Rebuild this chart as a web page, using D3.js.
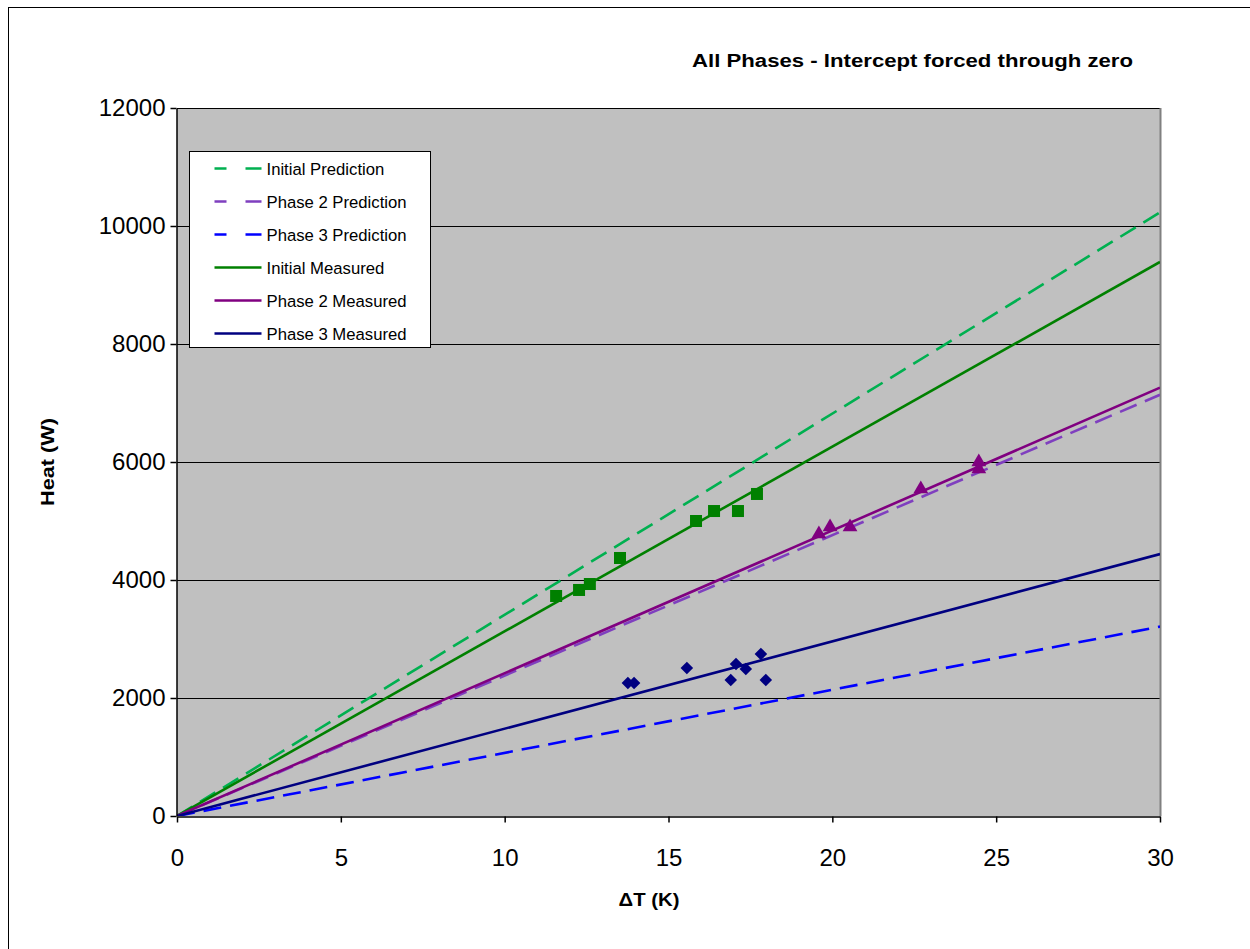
<!DOCTYPE html>
<html>
<head>
<meta charset="utf-8">
<script src="https://cdn.jsdelivr.net/npm/d3@7"></script>
<style>
  body { margin: 0; background: #fff; }
  text { font-family: "Liberation Sans", Arial, sans-serif; }
</style>
</head>
<body>
<div id="chart"></div>
<script>
// data
var xTicks = [0, 5, 10, 15, 20, 25, 30];
var yTicks = [0, 2000, 4000, 6000, 8000, 10000, 12000];

var initialX = [11.57, 12.27, 12.6, 13.52, 15.84, 16.39, 17.12, 17.7];
var initialY = [3729, 3831, 3932, 4373, 5000, 5169, 5169, 5458];

var phase2X = [19.59, 19.93, 20.54, 22.7, 24.47, 24.47];
var phase2Y = [4763, 4881, 4881, 5525, 5983, 5864];

var phase3X = [13.76, 13.95, 15.56, 16.9, 17.06, 17.36, 17.82, 17.97];
var phase3Y = [2254, 2254, 2508, 2305, 2576, 2491, 2746, 2305];

// fitted lines (slope in W/K, through zero)
var lineNames = ["Initial Prediction", "Phase 2 Prediction", "Phase 3 Prediction",
                 "Initial Measured", "Phase 2 Measured", "Phase 3 Measured"];
var lineSlopes = [341, 238, 107, 313, 242, 148];
var lineColors = ["#00B050", "#7F3FBF", "#0000FF", "#008000", "#800080", "#000080"];
var lineDashed = [true, true, true, false, false, false];

var svgWidth = 1250;
var svgHeight = 949;

var plot = { left: 177, top: 108, right: 1160, bottom: 816 };

var svg = d3.select("#chart").append("svg")
  .attr("width", svgWidth)
  .attr("height", svgHeight);

// outer frame
svg.append("rect")
  .attr("x", 8.5).attr("y", 7.5)
  .attr("width", 1260).attr("height", 960)
  .attr("fill", "#fff")
  .attr("stroke", "#000")
  .attr("stroke-width", 1);

var xScale = d3.scaleLinear().domain([0, 30]).range([plot.left, plot.right]);
var yScale = d3.scaleLinear().domain([0, 12000]).range([plot.bottom, plot.top]);

// plot area
svg.append("rect")
  .attr("x", plot.left).attr("y", plot.top)
  .attr("width", plot.right - plot.left)
  .attr("height", plot.bottom - plot.top)
  .attr("fill", "#C0C0C0");

// gridlines
svg.append("g").selectAll("line")
  .data(yTicks.filter(d => d > 0))
  .enter().append("line")
  .attr("x1", plot.left).attr("x2", plot.right)
  .attr("y1", d => Math.round(yScale(d)) + 0.5)
  .attr("y2", d => Math.round(yScale(d)) + 0.5)
  .attr("stroke", "#000")
  .attr("stroke-width", 1);

// right border of plot area
svg.append("line")
  .attr("x1", plot.right + 0.5).attr("x2", plot.right + 0.5)
  .attr("y1", plot.top).attr("y2", plot.bottom)
  .attr("stroke", "#808080").attr("stroke-width", 2);

svg.append("clipPath").attr("id", "clip")
  .append("rect")
  .attr("x", plot.left).attr("y", plot.top)
  .attr("width", plot.right - plot.left)
  .attr("height", plot.bottom - plot.top);

var lineGroup = svg.append("g").attr("clip-path", "url(#clip)");

lineNames.forEach(function(name, i) {
  lineGroup.append("line")
    .attr("x1", xScale(0)).attr("y1", yScale(0))
    .attr("x2", xScale(30)).attr("y2", yScale(30 * lineSlopes[i]))
    .attr("stroke", lineColors[i])
    .attr("stroke-width", 2.6)
    .attr("stroke-dasharray", lineDashed[i] ? "18,9" : null);
});

// markers
var initialPts = initialX.map((x, i) => [x, initialY[i]]);
var phase2Pts = phase2X.map((x, i) => [x, phase2Y[i]]);
var phase3Pts = phase3X.map((x, i) => [x, phase3Y[i]]);

svg.append("g").selectAll("rect")
  .data(initialPts)
  .enter().append("rect")
  .attr("x", d => xScale(d[0]) - 6)
  .attr("y", d => yScale(d[1]) - 6)
  .attr("width", 12).attr("height", 12)
  .attr("fill", "#008000");

var triangle = d3.symbol().type(d3.symbolTriangle).size(95);
svg.append("g").selectAll("path")
  .data(phase2Pts)
  .enter().append("path")
  .attr("d", triangle)
  .attr("transform", d => `translate(${xScale(d[0])}, ${yScale(d[1]) - 1})`)
  .attr("fill", "#800080");

var diamond = d3.symbol().type(d3.symbolDiamond2).size(100);
svg.append("g").selectAll("path")
  .data(phase3Pts)
  .enter().append("path")
  .attr("d", diamond)
  .attr("transform", d => `translate(${xScale(d[0])}, ${yScale(d[1])})`)
  .attr("fill", "#000080");

// axes
var xAxis = d3.axisBottom(xScale).tickValues(xTicks).tickSize(6).tickSizeOuter(0).tickFormat(d3.format("d"));
var yAxis = d3.axisLeft(yScale).tickValues(yTicks).tickSize(6).tickSizeOuter(0).tickFormat(d3.format("d"));

var gx = svg.append("g")
  .attr("transform", `translate(0, ${plot.bottom + 0.5})`)
  .call(xAxis);
gx.selectAll("text").attr("font-size", 24).attr("fill", "#000")
  .attr("y", 49).attr("dy", null)
  .style("font-family", "'Liberation Sans', Arial, sans-serif");

var gy = svg.append("g")
  .attr("transform", `translate(${plot.left - 0.5}, 0)`)
  .call(yAxis);
gy.selectAll("text").attr("font-size", 24).attr("fill", "#000").attr("x", -11)
  .style("font-family", "'Liberation Sans', Arial, sans-serif");
svg.selectAll(".domain, .tick line").attr("stroke", "#000").attr("stroke-width", 1.5);

// labels
svg.append("text")
  .attr("x", 1133).attr("y", 67)
  .attr("text-anchor", "end")
  .attr("font-size", 18).attr("font-weight", "bold")
  .attr("textLength", 441).attr("lengthAdjust", "spacingAndGlyphs")
  .text("All Phases - Intercept forced through zero");

svg.append("text")
  .attr("x", 649).attr("y", 906)
  .attr("text-anchor", "middle")
  .attr("font-size", 18).attr("font-weight", "bold")
  .attr("textLength", 61).attr("lengthAdjust", "spacingAndGlyphs")
  .text("ΔT (K)");

svg.append("text")
  .attr("transform", "translate(54, 462) rotate(-90)")
  .attr("text-anchor", "middle")
  .attr("font-size", 18).attr("font-weight", "bold")
  .attr("textLength", 88).attr("lengthAdjust", "spacingAndGlyphs")
  .text("Heat (W)");

// legend
var legend = svg.append("g").attr("transform", "translate(189.5, 151.5)");
legend.append("rect")
  .attr("width", 241).attr("height", 196)
  .attr("fill", "#fff").attr("stroke", "#000").attr("stroke-width", 1);

lineNames.forEach(function(name, i) {
  var yy = 17 + i * 33;
  legend.append("line")
    .attr("x1", 25).attr("x2", 72)
    .attr("y1", yy).attr("y2", yy)
    .attr("stroke", lineColors[i])
    .attr("stroke-width", 2.6)
    .attr("stroke-dasharray", lineDashed[i] ? "12,19,16" : null);
  legend.append("text")
    .attr("x", 77).attr("y", yy + 6)
    .attr("font-size", 16.7)
    .text(name);
});
</script>
</body>
</html>
